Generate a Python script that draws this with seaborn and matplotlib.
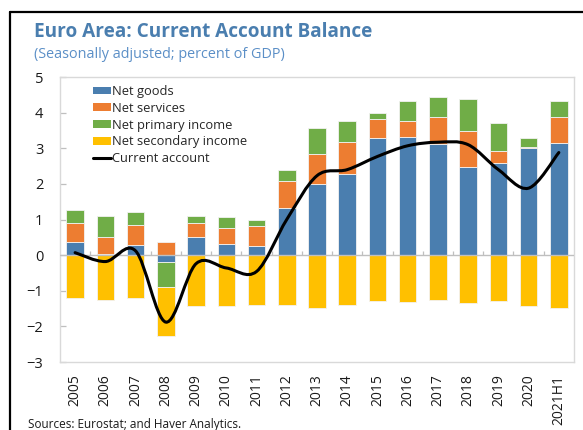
import numpy as np
import matplotlib.pyplot as plt
import seaborn as sns
from matplotlib.path import Path
from matplotlib.patches import PathPatch, Patch
from matplotlib.lines import Line2D

sns.set_theme(style='white')
plt.rcParams['font.family'] = ['Open Sans', 'DejaVu Sans']

# data (percent of GDP)
years = ['2005', '2006', '2007', '2008', '2009', '2010', '2011', '2012', '2013',
         '2014', '2015', '2016', '2017', '2018', '2019', '2020', '2021H1']
net_goods = [0.36, 0.02, 0.28, -0.19, 0.50, 0.30, 0.27, 1.31, 2.00,
             2.28, 3.28, 3.33, 3.11, 2.47, 2.60, 3.00, 3.15]
net_services = [0.55, 0.49, 0.56, 0.37, 0.40, 0.45, 0.54, 0.76, 0.83,
                0.89, 0.53, 0.43, 0.77, 1.02, 0.32, 0.03, 0.73]
net_primary = [0.35, 0.59, 0.37, -0.71, 0.20, 0.32, 0.19, 0.31, 0.74,
               0.60, 0.18, 0.58, 0.56, 0.89, 0.78, 0.27, 0.46]
net_secondary = [-1.21, -1.27, -1.19, -1.36, -1.43, -1.44, -1.39, -1.41, -1.49,
                 -1.41, -1.30, -1.31, -1.27, -1.34, -1.30, -1.44, -1.48]
current_account = [0.07, -0.18, 0.12, -1.88, -0.24, -0.36, -0.46, 1.00, 2.23,
                   2.40, 2.77, 3.07, 3.17, 3.10, 2.40, 1.88, 2.88]

components = [('Net goods', net_goods, '#4A7EAF'),
              ('Net services', net_services, '#ED7D31'),
              ('Net primary income', net_primary, '#70AD47'),
              ('Net secondary income', net_secondary, '#FFC000')]

fig = plt.figure(figsize=(5.83, 4.30), dpi=100)
ax = fig.add_axes([0.1029, 0.1581, 0.8816, 0.6628])

x = np.arange(len(years))
pos_base = np.zeros(len(years))
neg_base = np.zeros(len(years))
for name, vals, col in components:
    v = np.array(vals)
    bottom = np.where(v >= 0, pos_base, neg_base)
    ax.bar(x, v, bottom=bottom, width=0.58, color=col, edgecolor='#F2F2F2',
           linewidth=0.6, zorder=2)
    pos_base += np.where(v >= 0, v, 0)
    neg_base += np.where(v < 0, v, 0)

# smoothed line (Excel style bezier through the points)
pts = np.column_stack([x, current_account]).astype(float)
ext = np.vstack([pts[0], pts, pts[-1]])
verts = [tuple(pts[0])]
codes = [Path.MOVETO]
for i in range(len(pts) - 1):
    p0, p1, p2, p3 = ext[i], ext[i + 1], ext[i + 2], ext[i + 3]
    c1 = p1 + (p2 - p0) / 6.0
    c2 = p2 - (p3 - p1) / 6.0
    verts += [tuple(c1), tuple(c2), tuple(p2)]
    codes += [Path.CURVE4] * 3
ax.add_patch(PathPatch(Path(verts, codes), fill=False, edgecolor='black',
                       linewidth=2.2, capstyle='round', zorder=4))

# zero line with category ticks
ax.axhline(0, color='#BFBFBF', linewidth=1.0, zorder=3)
ax.vlines(x[:-1] + 0.5, 0, 0.13, color='#BFBFBF', linewidth=0.9, zorder=3)

ax.set_xlim(-0.5, len(years) - 0.5)
ax.set_ylim(-3, 5)
ax.set_yticks(range(-3, 6))
ax.set_xticks(x)
ax.set_xticklabels(years, rotation=90, va='top')
for s in ax.spines.values():
    s.set_color('#D9D9D9')
    s.set_linewidth(1.0)
ax.tick_params(axis='y', direction='in', length=4, color='#BFBFBF', width=0.9,
               pad=12, labelsize=10.5, labelcolor='#1A1A1A', left=True)
ax.tick_params(axis='x', length=0, pad=9, labelsize=10, labelcolor='#1A1A1A')
ax.grid(False)

handles = [Patch(facecolor=c, edgecolor='none', label=n) for n, _, c in components]
handles.append(Line2D([], [], color='black', linewidth=2.2, label='Current account'))
ax.legend(handles=handles, loc='upper left', bbox_to_anchor=(0.059, 0.981),
          frameon=False, fontsize=9.3, handlelength=1.4, handleheight=0.55,
          handletextpad=0.05, labelspacing=0.29, borderpad=0.2, borderaxespad=0)

fig.text(0.058, 0.925, 'Euro Area: Current Account Balance', fontsize=13.7,
         fontweight='bold', color='#4A7EAF', va='center')
fig.text(0.058, 0.874, '(Seasonally adjusted; percent of GDP)', fontsize=10.4,
         color='#5B8FC7', va='center')
fig.text(0.048, 0.012, 'Sources: Eurostat; and Haver Analytics.', fontsize=8.5,
         color='#1A1A1A', va='center')

# frame around the panel
fig.add_artist(Line2D([0.017, 1.0], [0.971, 0.971], color='black', linewidth=1.6))
fig.add_artist(Line2D([0.017, 0.017], [0.0, 0.971], color='black', linewidth=1.6))

fig.savefig('out.png', dpi=100)
